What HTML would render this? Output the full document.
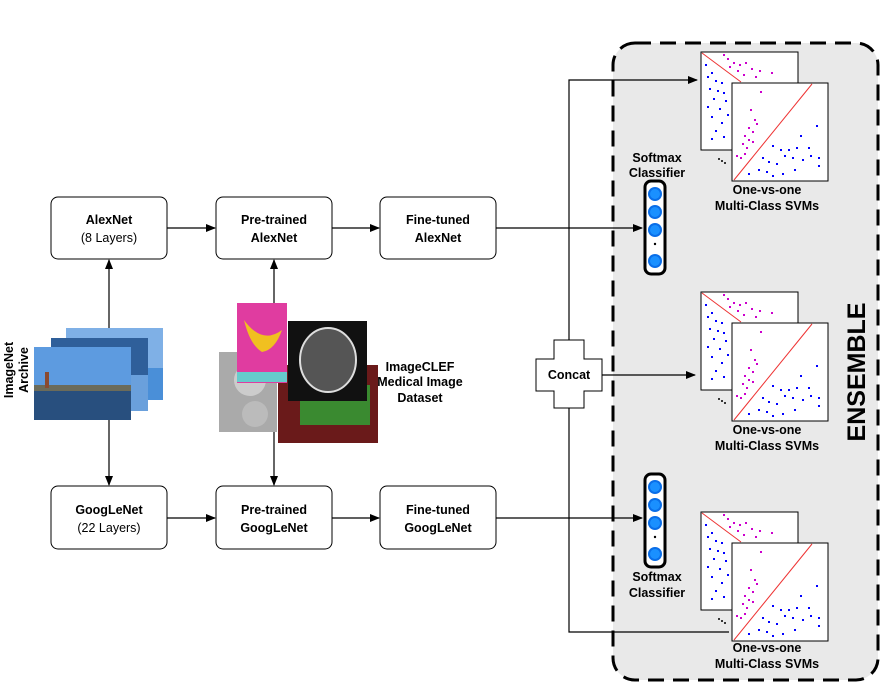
<!DOCTYPE html>
<html><head><meta charset="utf-8"><style>
html,body{margin:0;padding:0;background:#fff}
svg{display:block}
text{font-family:"Liberation Sans",Arial,sans-serif;font-size:12.5px;fill:#000}
.b{font-weight:bold}
</style></head><body>
<svg width="891" height="693" viewBox="0 0 891 693" xmlns="http://www.w3.org/2000/svg">
<defs>
<marker id="ar" markerWidth="10" markerHeight="8" refX="9" refY="4" orient="auto" markerUnits="userSpaceOnUse">
<path d="M0,0 L10,4 L0,8 z" fill="#000"/></marker>
<g id="back">
<rect x="0" y="0" width="97" height="98" fill="#fff" stroke="#000" stroke-width="1"/>
<line x1="1" y1="1" x2="40" y2="30" stroke="#e33" stroke-width="1"/>
<g fill="#c0c">
<rect x="22" y="2" width="2" height="2"/><rect x="26" y="6" width="2" height="2"/><rect x="32" y="10" width="2" height="2"/><rect x="38" y="12" width="2" height="2"/><rect x="44" y="10" width="2" height="2"/><rect x="50" y="16" width="2" height="2"/><rect x="58" y="18" width="2" height="2"/><rect x="36" y="18" width="2" height="2"/><rect x="28" y="14" width="2" height="2"/><rect x="70" y="20" width="2" height="2"/><rect x="42" y="22" width="2" height="2"/><rect x="54" y="24" width="2" height="2"/>
</g>
<g fill="#00f">
<rect x="4" y="12" width="2" height="2"/><rect x="10" y="20" width="2" height="2"/><rect x="6" y="24" width="2" height="2"/><rect x="14" y="28" width="2" height="2"/><rect x="20" y="30" width="2" height="2"/><rect x="8" y="36" width="2" height="2"/><rect x="16" y="38" width="2" height="2"/><rect x="22" y="40" width="2" height="2"/><rect x="12" y="46" width="2" height="2"/><rect x="24" y="48" width="2" height="2"/><rect x="6" y="54" width="2" height="2"/><rect x="18" y="56" width="2" height="2"/><rect x="26" y="62" width="2" height="2"/><rect x="10" y="64" width="2" height="2"/><rect x="20" y="70" width="2" height="2"/><rect x="14" y="78" width="2" height="2"/><rect x="22" y="84" width="2" height="2"/><rect x="10" y="86" width="2" height="2"/>
</g>
</g>
<g id="front">
<rect x="0" y="0" width="96" height="98" fill="#fff" stroke="#000" stroke-width="1"/>
<line x1="2" y1="97" x2="80" y2="1" stroke="#e33" stroke-width="1"/>
<g fill="#c0c">
<rect x="28" y="8" width="2" height="2"/><rect x="18" y="26" width="2" height="2"/><rect x="22" y="36" width="2" height="2"/><rect x="16" y="44" width="2" height="2"/><rect x="20" y="48" width="2" height="2"/><rect x="12" y="52" width="2" height="2"/><rect x="16" y="56" width="2" height="2"/><rect x="20" y="58" width="2" height="2"/><rect x="10" y="60" width="2" height="2"/><rect x="14" y="64" width="2" height="2"/><rect x="4" y="72" width="2" height="2"/><rect x="12" y="70" width="2" height="2"/><rect x="8" y="74" width="2" height="2"/><rect x="24" y="40" width="2" height="2"/>
</g>
<g fill="#00f">
<rect x="84" y="42" width="2" height="2"/><rect x="68" y="52" width="2" height="2"/><rect x="40" y="62" width="2" height="2"/><rect x="48" y="66" width="2" height="2"/><rect x="56" y="66" width="2" height="2"/><rect x="52" y="72" width="2" height="2"/><rect x="60" y="74" width="2" height="2"/><rect x="30" y="74" width="2" height="2"/><rect x="36" y="78" width="2" height="2"/><rect x="44" y="80" width="2" height="2"/><rect x="70" y="76" width="2" height="2"/><rect x="78" y="72" width="2" height="2"/><rect x="86" y="74" width="2" height="2"/><rect x="86" y="82" width="2" height="2"/><rect x="26" y="86" width="2" height="2"/><rect x="34" y="88" width="2" height="2"/><rect x="40" y="92" width="2" height="2"/><rect x="50" y="90" width="2" height="2"/><rect x="62" y="86" width="2" height="2"/><rect x="16" y="90" width="2" height="2"/><rect x="64" y="64" width="2" height="2"/><rect x="76" y="64" width="2" height="2"/>
</g>
</g>
<g id="soft">
<rect x="0" y="0" width="20" height="93" rx="6" fill="#fff" stroke="#000" stroke-width="3"/>
<circle cx="10" cy="13" r="7" fill="#0a6ee8"/><circle cx="10" cy="13" r="5" fill="#1a90ff"/>
<circle cx="10" cy="31" r="7" fill="#0a6ee8"/><circle cx="10" cy="31" r="5" fill="#1a90ff"/>
<circle cx="10" cy="49" r="7" fill="#0a6ee8"/><circle cx="10" cy="49" r="5" fill="#1a90ff"/>
<circle cx="10" cy="63" r="1.2" fill="#000"/>
<circle cx="10" cy="80" r="7" fill="#0a6ee8"/><circle cx="10" cy="80" r="5" fill="#1a90ff"/>
</g>
</defs>

<!-- Ensemble -->
<rect x="613" y="43" width="265" height="637" rx="22" fill="#e9e9e9" stroke="#000" stroke-width="3" stroke-dasharray="16,9"/>
<text class="b" transform="translate(865,372) rotate(-90)" text-anchor="middle" style="font-size:25px">ENSEMBLE</text>

<!-- boxes -->
<g fill="#fff" stroke="#000" stroke-width="1">
<rect x="51" y="197" width="116" height="62" rx="7"/>
<rect x="216" y="197" width="116" height="62" rx="7"/>
<rect x="380" y="197" width="116" height="62" rx="7"/>
<rect x="51" y="486" width="116" height="63" rx="7"/>
<rect x="216" y="486" width="116" height="63" rx="7"/>
<rect x="380" y="486" width="116" height="63" rx="7"/>
</g>
<g text-anchor="middle">
<text class="b" x="109" y="224">AlexNet</text><text x="109" y="242">(8 Layers)</text>
<text class="b" x="274" y="224">Pre-trained</text><text class="b" x="274" y="242">AlexNet</text>
<text class="b" x="438" y="224">Fine-tuned</text><text class="b" x="438" y="242">AlexNet</text>
<text class="b" x="109" y="514">GoogLeNet</text><text x="109" y="532">(22 Layers)</text>
<text class="b" x="274" y="514">Pre-trained</text><text class="b" x="274" y="532">GoogLeNet</text>
<text class="b" x="438" y="514">Fine-tuned</text><text class="b" x="438" y="532">GoogLeNet</text>
</g>

<!-- arrows -->
<g stroke="#000" stroke-width="1.2" fill="none">
<line x1="167" y1="228" x2="215" y2="228" marker-end="url(#ar)"/>
<line x1="332" y1="228" x2="379" y2="228" marker-end="url(#ar)"/>
<line x1="167" y1="518" x2="215" y2="518" marker-end="url(#ar)"/>
<line x1="332" y1="518" x2="379" y2="518" marker-end="url(#ar)"/>
<line x1="109" y1="340" x2="109" y2="260" marker-end="url(#ar)"/>
<line x1="109" y1="400" x2="109" y2="485" marker-end="url(#ar)"/>
<line x1="274" y1="340" x2="274" y2="260" marker-end="url(#ar)"/>
<line x1="274" y1="400" x2="274" y2="485" marker-end="url(#ar)"/>
<line x1="496" y1="228" x2="642" y2="228" marker-end="url(#ar)"/>
<line x1="496" y1="518" x2="642" y2="518" marker-end="url(#ar)"/>
<polyline points="569,340 569,80 697,80" marker-end="url(#ar)"/>
<polyline points="569,408 569,632 729,632"/>
<line x1="602" y1="375" x2="695" y2="375" marker-end="url(#ar)"/>
</g>

<!-- concat cross -->
<path d="M554,340 H584 V359 H602 V391 H584 V408 H554 V391 H536 V359 H554 Z" fill="#fff" stroke="#000" stroke-width="1"/>
<text class="b" x="569" y="379" text-anchor="middle">Concat</text>

<!-- imagenet images -->
<rect x="66" y="328" width="97" height="72" fill="#4a8fd8"/>
<rect x="66" y="328" width="97" height="40" fill="#7fb0e6"/>
<rect x="51" y="338" width="97" height="73" fill="#2f5f9a"/>
<rect x="51" y="375" width="97" height="36" fill="#6aa0dc"/>
<rect x="34" y="347" width="97" height="73" fill="#3d7cc9"/>
<rect x="34" y="347" width="97" height="40" fill="#5d9be0"/>
<rect x="34" y="388" width="97" height="32" fill="#284f7e"/>
<rect x="34" y="385" width="97" height="6" fill="#6b6b5a"/>
<rect x="45" y="372" width="4" height="16" fill="#8a4a30"/>
<text class="b" transform="translate(13,370) rotate(-90)" text-anchor="middle">ImageNet</text>
<text class="b" transform="translate(28,370) rotate(-90)" text-anchor="middle">Archive</text>

<!-- medical images -->
<rect x="219" y="352" width="58" height="80" fill="#aaa"/>
<circle cx="250" cy="380" r="16" fill="#ccc"/><circle cx="255" cy="414" r="13" fill="#bbb"/>
<rect x="278" y="365" width="100" height="78" fill="#6a1a1a"/>
<rect x="300" y="385" width="70" height="40" fill="#3a8a30"/>
<rect x="237" y="303" width="50" height="80" fill="#e03ca0"/>
<path d="M244,320 Q262,345 282,330 Q275,350 262,352 Q250,345 244,320Z" fill="#f0c020"/>
<rect x="237" y="372" width="50" height="10" fill="#6cc"/>
<rect x="288" y="321" width="79" height="80" fill="#111"/>
<ellipse cx="328" cy="360" rx="28" ry="32" fill="#555" stroke="#ddd" stroke-width="2"/>
<text class="b" x="420" y="371" text-anchor="middle">ImageCLEF</text>
<text class="b" x="420" y="386" text-anchor="middle">Medical Image</text>
<text class="b" x="420" y="402" text-anchor="middle">Dataset</text>

<!-- softmax -->
<use href="#soft" x="645" y="181"/>
<text class="b" x="657" y="162" text-anchor="middle">Softmax</text>
<text class="b" x="657" y="177" text-anchor="middle">Classifier</text>
<use href="#soft" x="645" y="474"/>
<text class="b" x="657" y="581" text-anchor="middle">Softmax</text>
<text class="b" x="657" y="597" text-anchor="middle">Classifier</text>

<!-- SVMs -->
<use href="#back" x="701" y="52"/><use href="#front" x="732" y="83"/>
<use href="#back" x="701" y="292"/><use href="#front" x="732" y="323"/>
<use href="#back" x="701" y="512"/><use href="#front" x="732" y="543"/>
<g fill="#000"><circle cx="719" cy="159" r="1"/><circle cx="722" cy="161" r="1"/><circle cx="725" cy="163" r="1"/>
<circle cx="719" cy="399" r="1"/><circle cx="722" cy="401" r="1"/><circle cx="725" cy="403" r="1"/>
<circle cx="719" cy="619" r="1"/><circle cx="722" cy="621" r="1"/><circle cx="725" cy="623" r="1"/></g>
<g text-anchor="middle">
<text class="b" x="767" y="194">One-vs-one</text><text class="b" x="767" y="210">Multi-Class SVMs</text>
<text class="b" x="767" y="434">One-vs-one</text><text class="b" x="767" y="450">Multi-Class SVMs</text>
<text class="b" x="767" y="652">One-vs-one</text><text class="b" x="767" y="668">Multi-Class SVMs</text>
</g>
</svg>
</body></html>
